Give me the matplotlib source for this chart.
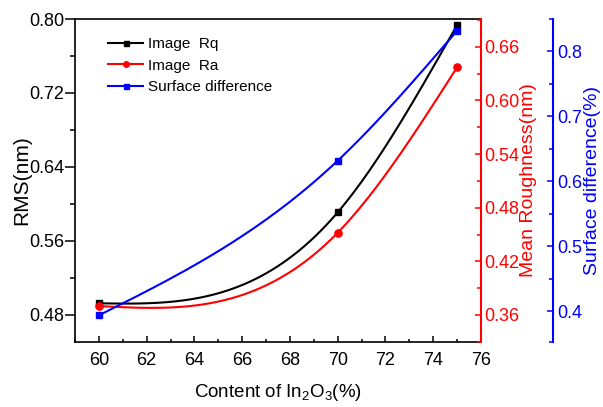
import numpy as np
import matplotlib
matplotlib.use("Agg")
import matplotlib.pyplot as plt
from matplotlib.ticker import MultipleLocator, FixedLocator, FormatStrFormatter
from matplotlib.lines import Line2D

plt.rcParams['font.family'] = ['Liberation Sans', 'DejaVu Sans']
plt.rcParams['mathtext.default'] = 'regular'

content = [60, 70, 75]
rq = [0.4926, 0.591, 0.7935]
ra = [0.370, 0.452, 0.637]
surf = [0.394, 0.632, 0.832]
xticks = [60, 62, 64, 66, 68, 70, 72, 74, 76]
legend_labels = ['Image  Rq', 'Image  Ra', 'Surface difference']


def natural_spline(x, y, n=200):
    x = np.asarray(x, float); y = np.asarray(y, float)
    k = len(x); h = np.diff(x)
    A = np.zeros((k, k)); b = np.zeros(k)
    A[0, 0] = A[-1, -1] = 1
    for i in range(1, k - 1):
        A[i, i - 1] = h[i - 1]; A[i, i] = 2 * (h[i - 1] + h[i]); A[i, i + 1] = h[i]
        b[i] = 6 * ((y[i + 1] - y[i]) / h[i] - (y[i] - y[i - 1]) / h[i - 1])
    M = np.linalg.solve(A, b)
    xs = np.linspace(x[0], x[-1], n)
    ys = np.empty_like(xs)
    for j, t in enumerate(xs):
        i = min(np.searchsorted(x, t, side='right') - 1, k - 2)
        a = x[i + 1] - t; c = t - x[i]
        ys[j] = (M[i] * a**3 + M[i + 1] * c**3) / (6 * h[i]) + \
            (y[i] / h[i] - M[i] * h[i] / 6) * a + (y[i + 1] / h[i] - M[i + 1] * h[i] / 6) * c
    return xs, ys


fig = plt.figure(figsize=(6.03, 4.07), dpi=100)
ax = fig.add_axes([75 / 603, 1 - 342 / 407, (481 - 75) / 603, (342 - 19) / 407])
ax2 = ax.twinx()
ax3 = ax.twinx()
ax3.spines['right'].set_position(('outward', 51.8))

lw = 1.5
xs, ys = natural_spline(content, rq)
ax.plot(xs, ys, color='black', lw=lw)
ax.plot(content, rq, color='black', marker='s', ms=4.6, ls='none')
xs, ys = natural_spline(content, ra)
ax2.plot(xs, ys, color='red', lw=lw)
ax2.plot(content, ra, color='red', marker='o', ms=5.2, ls='none')
xs, ys = natural_spline(content, surf)
ax3.plot(xs, ys, color='blue', lw=lw)
ax3.plot(content, surf, color='blue', marker='s', ms=4.6, ls='none')

handles = [Line2D([], [], color='black', lw=lw, marker='s', ms=3.6),
           Line2D([], [], color='red', lw=lw, marker='o', ms=4),
           Line2D([], [], color='blue', lw=lw, marker='s', ms=3.6)]
ax3.legend(handles, legend_labels, loc='upper left',
           bbox_to_anchor=(0.067, 0.963), frameon=False, fontsize=11, numpoints=1,
           handlelength=2.3, handletextpad=0.3, labelspacing=0.5, borderaxespad=0)

ax.set_xlim(59, 76)
ax.set_ylim(0.4508, 0.8)
ax2.set_ylim(0.3298, 0.691)
ax3.set_ylim(0.353, 0.85)

ax.set_xticks(xticks)
ax.xaxis.set_minor_locator(MultipleLocator(1))
ax.yaxis.set_major_locator(MultipleLocator(0.08))
ax.yaxis.set_minor_locator(MultipleLocator(0.04))
ax.yaxis.set_major_formatter(FormatStrFormatter('%.2f'))
ax2.yaxis.set_major_locator(MultipleLocator(0.06))
ax2.yaxis.set_minor_locator(MultipleLocator(0.03))
ax2.yaxis.set_major_formatter(FormatStrFormatter('%.2f'))
ax3.yaxis.set_major_locator(MultipleLocator(0.1))
ax3.yaxis.set_minor_locator(FixedLocator([0.3535, 0.45, 0.55, 0.65, 0.75, 0.8495]))
ax3.yaxis.set_major_formatter(FormatStrFormatter('%.1f'))

tsize = 13
ax.tick_params(axis='y', which='major', direction='out', length=7, width=1.1, labelsize=tsize, pad=1)
ax.tick_params(axis='y', which='minor', direction='out', length=3.6, width=1.1)
ax.tick_params(axis='x', which='major', direction='in', length=4.5, width=1.1, labelsize=tsize, pad=7.5)
ax.tick_params(axis='x', which='minor', direction='in', length=2.4, width=1.1)
ax.tick_params(axis='x', which='both', top=False)
ax.tick_params(axis='y', which='both', right=False)

ax2.tick_params(axis='y', which='major', direction='in', length=4.5, width=1.1, labelsize=tsize, pad=2, colors='red')
ax2.tick_params(axis='y', which='minor', direction='in', length=2.8, width=1.1, colors='red')
ax3.tick_params(axis='y', which='major', direction='in', length=4.5, width=1.1, labelsize=tsize, pad=3, colors='blue')
ax3.tick_params(axis='y', which='minor', direction='in', length=2.8, width=1.1, colors='blue')

for s in ax.spines.values():
    s.set_linewidth(1.2)
ax.spines['right'].set_visible(False)

ax2.spines['right'].set_color('red')
ax2.spines['right'].set_linewidth(1.5)
ax3.spines['right'].set_color('blue')
ax3.spines['right'].set_linewidth(1.5)
for a in (ax2, ax3):
    for k in ('left', 'top', 'bottom'):
        a.spines[k].set_visible(False)

ax.set_xlabel('Content of In$_2$O$_3$(%)', fontsize=13.5, labelpad=9)
ax.set_ylabel('RMS(nm)', fontsize=15, labelpad=-2)
ax2.set_ylabel('Mean Roughness(nm)', fontsize=14, color='red', labelpad=1)
ax3.set_ylabel('Surface difference(%)', fontsize=14, color='blue', labelpad=1)

fig.savefig('out.png', dpi=100)
